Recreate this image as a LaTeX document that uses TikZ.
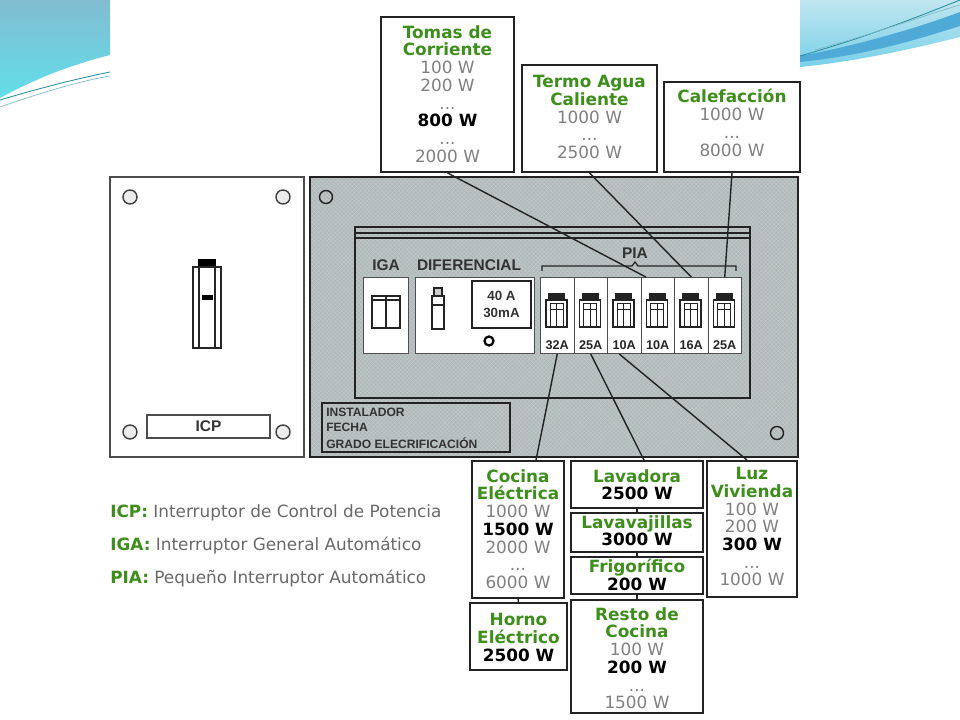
\documentclass[tikz,border=0pt]{standalone}
\usepackage{fontspec}
\setmainfont{DejaVu Sans}
\newfontfamily\panelfont{Liberation Sans}
\definecolor{titgreen}{RGB}{62, 142, 28}
\definecolor{valgray}{RGB}{128, 128, 128}
\definecolor{leggray}{RGB}{105, 105, 105}
\definecolor{panelgray}{RGB}{176, 185, 185}
\definecolor{linedark}{RGB}{35, 35, 35}
\definecolor{swtop}{RGB}{130, 188, 208}
\definecolor{swbot}{RGB}{98, 222, 234}
\definecolor{swpale}{RGB}{192, 230, 240}
\definecolor{swmid}{RGB}{120, 208, 232}
\definecolor{swband}{RGB}{80, 170, 215}
\definecolor{swline}{RGB}{40, 140, 160}
\usetikzlibrary{positioning, calc, fit, patterns}

\newcommand{\gtit}[1]{{\color{titgreen}\bfseries #1}}
\newcommand{\gval}[1]{{\color{valgray}#1}}
\newcommand{\bval}[1]{{\bfseries #1}}

\begin{document}
\begin{tikzpicture}[x=0.025cm, y=-0.025cm,
  wbox/.style={draw=linedark, line width=1.3pt, fill=white, inner sep=0pt},
  btext/.style={anchor=north, align=center, inner sep=0pt, font=\fontsize{12}{12.6}\selectfont},
  lead/.style={draw=linedark, line width=1pt},
  piamod/.style={draw=linedark!80, line width=0.7pt, fill=white, inner sep=0pt, minimum width=0.8375cm, minimum height=1.9cm},
  plabel/.style={font=\panelfont\bfseries\fontsize{11}{11}\selectfont, text=black!80, inner sep=0pt}]
  \useasboundingbox (0,0) rectangle (960,720);
  \fill[white] (0,0) rectangle (960,720);

  % Slide corners
  \shade[top color=swtop, bottom color=swbot] (0,0) -- (110,0) -- (110,55) .. controls (60,68) and (30,82) .. (0,98) -- cycle;
  \draw[swline, line width=0.6pt] (0,100) .. controls (40,88) and (80,78) .. (110,72);
  \draw[swline!60!white, line width=0.5pt] (0,107) .. controls (40,93) and (80,81) .. (110,76);
  \shade[top color=swpale, bottom color=swmid] (800,0) -- (960,0) -- (960,37) .. controls (900,52) and (850,62) .. (800,67) -- cycle;
  \fill[swband] (800,56) .. controls (860,45) and (920,27) .. (960,12) -- (960,26) .. controls (910,42) and (860,56) .. (800,62) -- cycle;
  \draw[swline, line width=0.6pt] (800,56) .. controls (870,36) and (920,16) .. (960,0);
  \draw[swline!60!white, line width=0.5pt] (815,50) .. controls (880,32) and (925,15) .. (960,5);

  % ICP panel
  \draw[draw=black!70, line width=1.3pt, fill=white] (110,177) rectangle (304,457);
  \foreach \p in {(130,197), (283,197), (130,432), (283,432)}
    \draw[fill=gray!15, line width=1pt, draw=black!75] \p circle[radius=7];
  \fill[black] (198,259) rectangle (216,267);
  \draw[black!85, line width=0.9pt] (193,267) rectangle (221,348) (199,267) -- (199,348) (215,267) -- (215,348);
  \fill[black] (202,295) rectangle (213,300);
  \node[draw=black!70, line width=0.8pt, fit={(147,415) (270,438)}, inner sep=0pt] (icpbox) {};
  \node[plabel] (icplab) at (icpbox.center) {ICP};

  % Main panel
  \fill[panelgray] (310,177) rectangle (798,457);
  \fill[pattern=crosshatch, pattern color=panelgray!80!white] (310,177) rectangle (798,457);
  \draw[linedark, line width=1.2pt] (310,177) rectangle (798,457);
  \draw[linedark, line width=1pt] (326,197) circle[radius=6.5] (777,433) circle[radius=6.5];
  \draw[linedark, line width=1pt] (355,227) rectangle (750,398) (355,233) -- (750,233) (355,238) -- (750,238);

  \node[plabel] (lbliga) at (386,265) {IGA};
  \node[plabel] (lbldif) at (469,265) {DIFERENCIAL};
  \node[plabel] (lblpia) at (635,253) {PIA};
  \draw[linedark, line width=0.9pt] (542,271) -- (542,266) -- (632,266) -- (635,262) -- (638,266) -- (736,266) -- (736,271);

  % IGA
  \draw[linedark!80, line width=0.7pt, fill=white] (363,277) rectangle (408,353);
  \draw[linedark, line width=0.9pt] (372,296) rectangle (386,328) (386,296) rectangle (400,328) (372,300) -- (400,300);

  % Diferencial
  \draw[linedark!80, line width=0.7pt, fill=white] (415,277) rectangle (534,353);
  \draw[linedark, line width=0.9pt] (432,296) rectangle (444,329) (432,305) -- (444,305);
  \draw[linedark, line width=0.9pt, fill=gray!40] (434,288) rectangle (442,296);
  \node[draw=linedark, line width=0.9pt, fit={(472,281) (531,328)}, inner sep=0pt] (rating) {};
  \node[align=center, font=\panelfont\bfseries\fontsize{9.5}{12.5}\selectfont, text=black!80, inner sep=0pt] (ratinglab) at (rating.center) {40 A\\30mA};
  \draw[black, line width=1.6pt] (489,341) circle[radius=4.5];

  % PIA modules
  \foreach \rating [count=\i] in {32A,25A,10A,10A,16A,25A}{
    \node[piamod, anchor=north west] (pia\i) at ({540+(\i-1)*33.5},277) {};
    \begin{scope}[shift={(pia\i.north west)}]
      \fill[linedark] (8,16) rectangle (25,23);
      \draw[linedark, line width=0.8pt] (6,23) rectangle (27,50);
      \draw[linedark, line width=0.6pt] (10,26) rectangle (23,50) (16.5,26) -- (16.5,50) (10,32) -- (23,32);
    \end{scope}
    \node[font=\panelfont\bfseries\fontsize{9}{9}\selectfont, text=black!85, inner sep=0pt] (amp\i) at ($(pia\i.south)+(0,-9)$) {\rating};
  }

  % Label strip
  \draw[linedark, line width=1pt] (322,403) rectangle (510,452);
  \node[anchor=west, font=\panelfont\bfseries\fontsize{8.6}{8.6}\selectfont, text=black!80, inner sep=0pt] (inst) at (326,412) {INSTALADOR};
  \node[anchor=west, font=\panelfont\bfseries\fontsize{8.6}{8.6}\selectfont, text=black!80, inner sep=0pt] (fecha) at (326,427) {FECHA};
  \node[anchor=west, font=\panelfont\bfseries\fontsize{8.6}{8.6}\selectfont, text=black!80, inner sep=0pt] (grado) at (326,443) {GRADO ELECRIFICACIÓN};

  % Top boxes
  \node[wbox, fit={(381,17) (514,172)}] (tomas) {};
  \node[wbox, fit={(522,65) (657,172)}] (termo) {};
  \node[wbox, fit={(664,82) (800,172)}] (calef) {};

  \node[btext] (tomast) at ($(tomas.north)+(0,9)$) {\gtit{Tomas de}\\\gtit{Corriente}\\\gval{100 W}\\\gval{200 W}\\\gval{...}\\\bval{800 W}\\\gval{...}\\\gval{2000 W}};
  \node[btext] (termot) at ($(termo.north)+(0,11)$) {\gtit{Termo Agua}\\\gtit{Caliente}\\\gval{1000 W}\\\gval{...}\\\gval{2500 W}};
  \node[btext] (caleft) at ($(calef.north)+(0,8)$) {\gtit{Calefacción}\\\gval{1000 W}\\\gval{...}\\\gval{8000 W}};

  \draw[lead] (tomas.south) -- ($(pia4.north)+(-12,0)$);
  \draw[lead] (termo.south) -- (pia5.north);
  \draw[lead] (calef.south) -- (pia6.north);

  % Bottom boxes
  \node[wbox, fit={(472,461) (564,598)}] (cocina) {};
  \node[wbox, fit={(470,603) (567,670)}] (horno) {};
  \node[wbox, fit={(571,461) (703,508)}] (lavadora) {};
  \node[wbox, fit={(571,513) (703,552)}] (lavavaj) {};
  \node[wbox, fit={(571,557) (703,594)}] (frigo) {};
  \node[wbox, fit={(571,600) (703,713)}] (resto) {};
  \node[wbox, fit={(707,461) (797,597)}] (luz) {};

  \node[btext] (cocinat) at ($(cocina.north)+(0,9)$) {\gtit{Cocina}\\\gtit{Eléctrica}\\\gval{1000 W}\\\bval{1500 W}\\\gval{2000 W}\\\gval{...}\\\gval{6000 W}};
  \node[btext] (hornot) at ($(horno.north)+(0,11)$) {\gtit{Horno}\\\gtit{Eléctrico}\\\bval{2500 W}};
  \node[btext] (lavadorat) at ($(lavadora.north)+(0,9)$) {\gtit{Lavadora}\\\bval{2500 W}};
  \node[btext] (lavavajt) at ($(lavavaj.north)+(0,3)$) {\gtit{Lavavajillas}\\\bval{3000 W}};
  \node[btext] (frigot) at ($(frigo.north)+(0,3)$) {\gtit{Frigorífico}\\\bval{200 W}};
  \node[btext] (restot) at ($(resto.north)+(0,8)$) {\gtit{Resto de}\\\gtit{Cocina}\\\gval{100 W}\\\bval{200 W}\\\gval{...}\\\gval{1500 W}};
  \node[btext] (luzt) at ($(luz.north)+(0,7)$) {\gtit{Luz}\\\gtit{Vivienda}\\\gval{100 W}\\\gval{200 W}\\\bval{300 W}\\\gval{...}\\\gval{1000 W}};

  \draw[lead] (pia1.south) -- ($(cocina.north)+(18,0)$);
  \draw[lead] (pia2.south) -- ($(lavadora.north)+(7,0)$);
  \draw[lead] ($(pia3.south)+(-5,0)$) -- ($(luz.north)+(-5,0)$);
  \draw[lead] (cocina.south) -- (horno.north);
  \draw[lead] (lavadora.south) -- (lavavaj.north);
  \draw[lead] (lavavaj.south) -- (frigo.north);
  \draw[lead] (frigo.south) -- (resto.north);

  % Legend
  \node[anchor=base west, inner sep=0pt, font=\fontsize{12}{12}\selectfont] (legicp) at (110,518) {{\color{titgreen}\bfseries ICP:} {\color{leggray}Interruptor de Control de Potencia}};
  \node[anchor=base west, inner sep=0pt, font=\fontsize{12}{12}\selectfont] (legiga) at (110,551) {{\color{titgreen}\bfseries IGA:} {\color{leggray}Interruptor General Automático}};
  \node[anchor=base west, inner sep=0pt, font=\fontsize{12}{12}\selectfont] (legpia) at (110,583) {{\color{titgreen}\bfseries PIA:} {\color{leggray}Pequeño Interruptor Automático}};
\end{tikzpicture}
\end{document}
